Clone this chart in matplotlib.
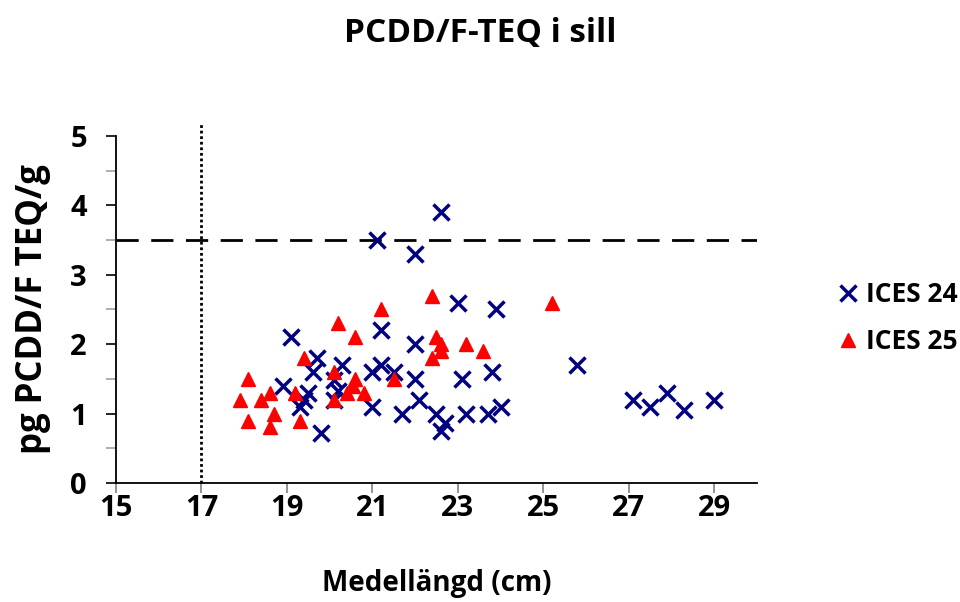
import matplotlib
matplotlib.use("Agg")
import matplotlib.pyplot as plt
from matplotlib.ticker import MultipleLocator

plt.rcParams['font.family'] = ['Open Sans', 'DejaVu Sans']
plt.rcParams['font.weight'] = 'bold'

# ICES 24 (kryss)
x24 = [21.1, 22.6, 22.0, 23.0, 23.9, 21.2, 19.1, 22.0, 19.7, 20.3, 21.2, 25.8,
       19.6, 21.0, 21.5, 23.8, 22.0, 23.1, 20.1, 18.9, 20.2, 19.5, 19.4, 20.1,
       22.1, 19.3, 21.0, 24.0, 21.7, 22.5, 23.2, 23.7, 22.7, 22.6, 19.8, 27.1,
       27.5, 27.9, 28.3, 29.0]
y24 = [3.5, 3.9, 3.3, 2.6, 2.5, 2.2, 2.1, 2.0, 1.8, 1.7, 1.7, 1.7,
       1.6, 1.6, 1.6, 1.6, 1.5, 1.5, 1.48, 1.4, 1.32, 1.3, 1.2, 1.2,
       1.2, 1.1, 1.1, 1.1, 1.0, 1.0, 1.0, 1.0, 0.86, 0.75, 0.72, 1.2,
       1.1, 1.3, 1.05, 1.2]

# ICES 25 (trianglar)
x25 = [22.4, 25.2, 21.2, 20.2, 20.6, 22.5, 22.6, 23.2, 22.6, 23.6, 19.4, 22.4,
       20.1, 18.1, 20.6, 21.5, 20.55, 18.6, 19.2, 20.4, 20.8, 17.9, 18.4, 20.1,
       18.7, 18.1, 19.3, 18.6]
y25 = [2.7, 2.6, 2.5, 2.3, 2.1, 2.1, 2.0, 2.0, 1.9, 1.9, 1.8, 1.8,
       1.6, 1.5, 1.5, 1.5, 1.4, 1.3, 1.3, 1.3, 1.3, 1.2, 1.2, 1.2,
       1.0, 0.9, 0.9, 0.8]

x_ticks = [15, 17, 19, 21, 23, 25, 27, 29]
gransvarde = 3.5
min_langd = 17

fig = plt.figure(figsize=(9.6, 6.02), dpi=100)
ax = fig.add_axes([0.1208, 0.1977, 0.6677, 0.5764])

ax.plot(x24, y24, linestyle='none', marker='x', color='#000080',
        markersize=11, markeredgewidth=2.5, label='ICES 24', zorder=3)
ax.plot(x25, y25, linestyle='none', marker='^', color='#ff0000',
        markersize=10, label='ICES 25', zorder=3)

ax.plot([15, 30], [gransvarde, gransvarde], color='black', linestyle=(0, (8, 4.5)),
        linewidth=2, zorder=2)
ax.plot([min_langd, min_langd], [0, 5.2], color='black', linestyle=(0, (1, 1)),
        linewidth=2, clip_on=False, zorder=2)

ax.set_xlim(15, 30)
ax.set_ylim(0, 5)
ax.set_xticks(x_ticks)
ax.yaxis.set_major_locator(MultipleLocator(1))
ax.yaxis.set_minor_locator(MultipleLocator(0.5))

for s in ['top', 'right']:
    ax.spines[s].set_visible(False)
for s in ['left', 'bottom']:
    ax.spines[s].set_linewidth(1.3)

ax.tick_params(axis='both', which='major', direction='out', length=7,
               width=1.2, color='#808080', labelsize=21)
ax.tick_params(axis='x', which='major', pad=1)
ax.tick_params(axis='y', which='major', pad=14, color='black')
ax.tick_params(axis='y', which='minor', direction='out', length=7,
               width=1.2, color='#a0a0a0')
for lab in ax.get_xticklabels() + ax.get_yticklabels():
    lab.set_fontweight('bold')

ax.set_xlabel('Medellängd (cm)', fontsize=20, fontweight='bold', labelpad=33)
ax.set_ylabel('pg PCDD/F TEQ/g', fontsize=25, fontweight='bold', labelpad=14)
fig.suptitle('PCDD/F-TEQ i sill', fontsize=24, fontweight='bold', x=0.5, y=0.972)

ax.legend(loc='center left', bbox_to_anchor=(1.085, 0.475), frameon=False,
          prop={'size': 19, 'weight': 'bold'}, handletextpad=0.15,
          labelspacing=0.75, handlelength=1.0)

fig.savefig('out.png', dpi=100)
